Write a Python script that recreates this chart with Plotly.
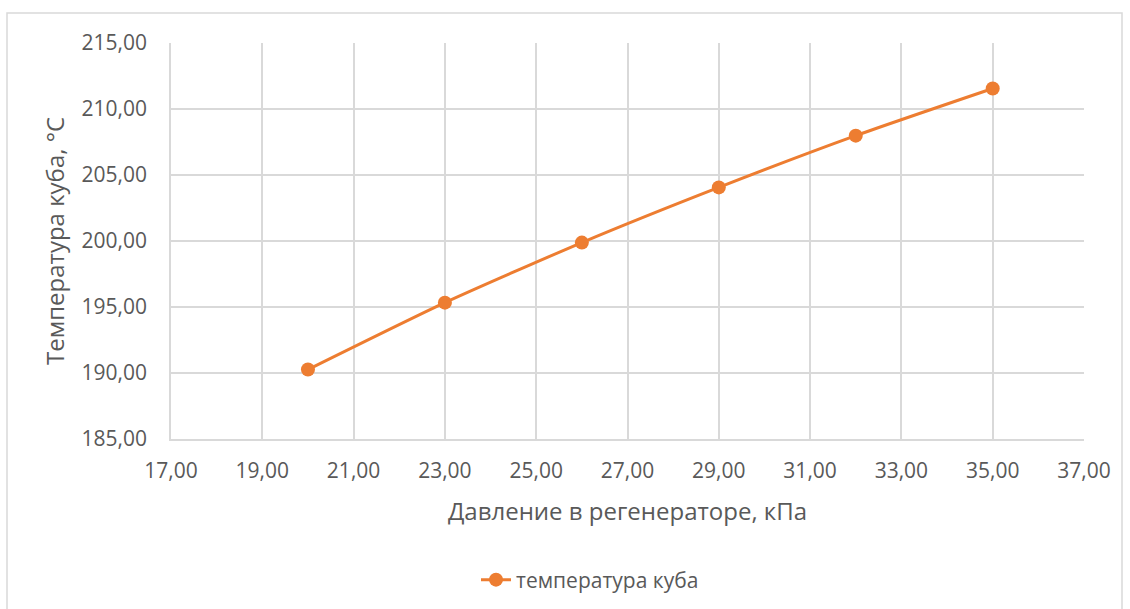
import plotly.graph_objects as go

pressure = [20, 23, 26, 29, 32, 35]
temperature = [190.26, 195.33, 199.88, 204.06, 207.98, 211.55]
series_name = "температура куба"
x_title = "Давление в регенераторе, кПа"
y_title = "Температура куба, °C"

W, H = 1130, 609
L, R, T, B = 171, 46, 43, 170
pw, ph = W - L - R, H - T - B

text_col = "#595959"
grid_col = "#D9D9D9"
orange = "#ED7D31"
font_family = "Open Sans, Liberation Sans, sans-serif"

fig = go.Figure()
fig.add_trace(go.Scatter(
    x=pressure, y=temperature, mode="lines+markers", name=series_name,
    line=dict(color=orange, width=3, shape="spline", smoothing=0.6),
    marker=dict(color=orange, size=14),
))

fig.update_layout(
    width=W, height=H,
    margin=dict(l=L, r=R, t=T, b=B),
    paper_bgcolor="white", plot_bgcolor="white",
    font=dict(family=font_family, color=text_col, size=21),
    showlegend=True,
    legend=dict(orientation="h", xref="container", x=590 / W, xanchor="center",
                yref="container", y=1 - 580 / H, yanchor="middle",
                font=dict(size=21, color=text_col)),
    xaxis=dict(range=[17, 37], dtick=2, tick0=17, tickformat=".2f",
               showgrid=True, gridcolor=grid_col, gridwidth=1.5,
               showline=True, linecolor=grid_col, linewidth=1.5, zeroline=False,
               ticks="", ticklabelstandoff=12,
               title=dict(text=x_title, font=dict(size=24, color=text_col), standoff=20)),
    yaxis=dict(range=[185, 215], dtick=5, tickformat=".2f",
               showgrid=True, gridcolor=grid_col, gridwidth=1.5,
               showline=True, linecolor=grid_col, linewidth=1.5, zeroline=False,
               ticks="", ticklabelstandoff=18,
               title=dict(text=y_title, font=dict(size=24, color=text_col), standoff=10)),
    separators=", ",
)

# outer chart border
fig.add_shape(type="rect", xref="paper", yref="paper",
              x0=(7 - L) / pw, x1=(1122 - L) / pw,
              y0=-(H + 20 - T - ph) / ph, y1=(T + ph - 13) / ph,
              line=dict(color=grid_col, width=1.5), fillcolor="rgba(0,0,0,0)", layer="below")

fig.write_html("out.html", config={"displayModeBar": False},
               post_script="document.body.style.margin='0';document.body.style.overflow='hidden';")
